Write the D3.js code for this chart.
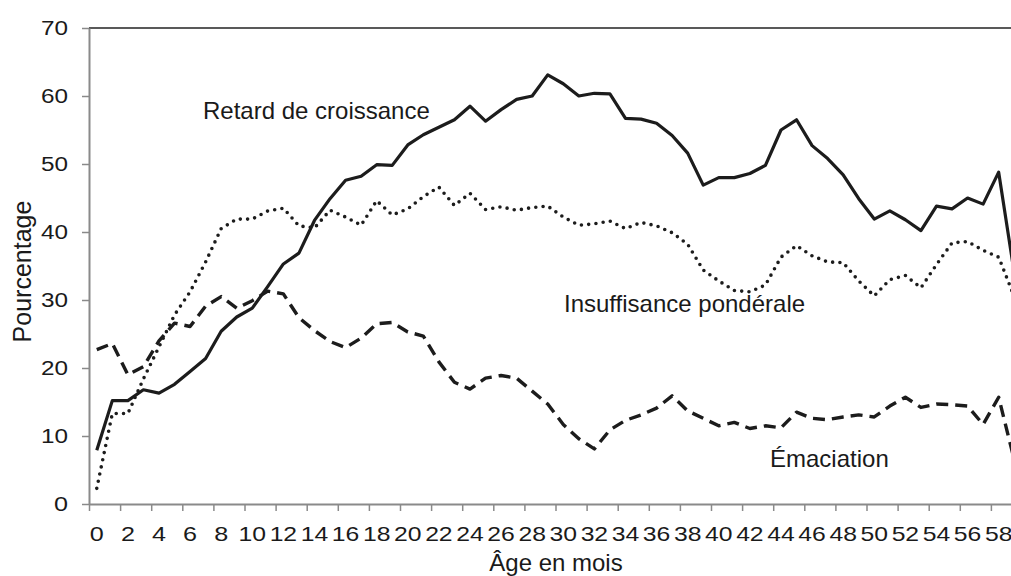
<!DOCTYPE html>
<meta charset="utf-8">
<html>
  <head>
    <title>Retard de croissance, insuffisance pondérale et émaciation selon l'âge</title>
    <script src="https://d3js.org/d3.v7.min.js"></script>
  </head>

<style type="text/css">
body {
  margin: 0;
  background: #FFFFFF;
}
svg {
  display: block;
}
.lbl {
  font-family: "Liberation Sans", Arial, sans-serif;
  fill: #1a1a1a;
}
</style>

<body>
<div id="my_dataviz"></div>

<script type="text/javascript">

// months 0..59, one category per month
var months = [0,1,2,3,4,5,6,7,8,9,10,11,12,13,14,15,16,17,18,19,
              20,21,22,23,24,25,26,27,28,29,30,31,32,33,34,35,36,37,38,39,
              40,41,42,43,44,45,46,47,48,49,50,51,52,53,54,55,56,57,58,59];

// Retard de croissance (solid)
var retard = [7.9,15.2,15.2,16.8,16.3,17.6,19.5,21.4,25.4,27.5,
              28.8,32.0,35.3,36.9,41.7,44.9,47.6,48.2,49.9,49.8,
              52.8,54.3,55.4,56.5,58.5,56.3,58.0,59.5,60.0,63.1,
              61.8,60.0,60.4,60.3,56.7,56.6,56.0,54.2,51.6,46.9,
              48.0,48.0,48.6,49.8,55.0,56.5,52.7,50.8,48.4,44.9,
              41.9,43.1,41.8,40.2,43.8,43.4,45.0,44.1,48.8,34.0];

// Insuffisance pondérale (dotted)
var insuffisance = [2.3,13.3,13.3,18.4,23.1,27.8,31.2,35.6,40.5,41.9,
                    41.9,43.1,43.5,40.9,40.6,43.2,42.2,41.0,44.6,42.5,
                    43.4,45.2,46.6,43.9,45.7,43.3,43.7,43.2,43.6,43.8,
                    42.2,41.0,41.2,41.6,40.5,41.4,40.9,39.9,38.2,34.4,
                    32.8,31.4,31.2,32.2,36.3,38.0,36.5,35.6,35.5,32.8,
                    30.6,33.0,33.6,31.8,35.2,38.4,38.6,37.3,36.3,30.5];

// Émaciation (dashed)
var emaciation = [22.7,23.6,19.0,20.2,24.0,26.6,26.1,29.1,30.5,28.8,
                  29.9,31.3,30.9,27.4,25.5,23.9,23.0,24.4,26.5,26.7,
                  25.3,24.7,20.9,17.9,16.9,18.5,18.9,18.5,16.6,14.7,
                  11.7,9.6,8.1,10.9,12.3,13.1,14.1,15.9,13.7,12.6,
                  11.5,12.0,11.1,11.5,11.2,13.5,12.6,12.4,12.8,13.1,
                  12.8,14.4,15.7,14.2,14.7,14.6,14.4,11.7,15.7,6.5];

var xTickLabels = ["0","2","4","6","8","10","12","14","16","18","20","22","24","26","28",
                   "30","32","34","36","38","40","42","44","46","48","50","52","54","56","58"];
var yTicks = [0,10,20,30,40,50,60,70];

// set the dimensions and margins of the graph
// (the original chart is wider than the picture, its right end is cut off)
var W = 1011, H = 576;
var margin = {top: 28, left: 89},
    width = 933,
    height = 476;

var svg = d3.select("#my_dataviz")
  .append("svg")
    .attr("width", W)
    .attr("height", H)
  .append("g")
    .attr("transform", "translate(" + margin.left + "," + margin.top + ")");

// scales
var x = d3.scaleBand()
  .domain(months)
  .range([0, width]);
var xEdge = d3.scaleLinear()
  .domain([0, months.length])
  .range([0, width]);
var y = d3.scaleLinear()
  .domain([0, 70])
  .range([height, 0]);

var axisGrey = "#8a8a8a";

// top border line
svg.append("line")
  .attr("x1", 0).attr("x2", width)
  .attr("y1", y(70)).attr("y2", y(70))
  .attr("stroke", "#222")
  .attr("stroke-width", 1.3);

// Y axis
var yAxis = svg.append("g")
  .call(d3.axisLeft(y).tickValues(yTicks).tickSize(7).tickSizeOuter(0).tickPadding(14));
yAxis.select(".domain").attr("stroke", axisGrey).attr("stroke-width", 2);
yAxis.selectAll(".tick line").attr("stroke", axisGrey).attr("stroke-width", 1.5);
yAxis.selectAll(".tick text")
  .attr("class", "lbl")
  .attr("font-size", 20)
  .attr("textLength", function(d) { return String(d).length > 1 ? 27 : 14; })
  .attr("lengthAdjust", "spacingAndGlyphs");

// X axis: tick marks between categories, every 2 months
var edges = xTickLabels.map(function(d) { return +d; }).concat([60]);
var xAxis = svg.append("g")
  .attr("transform", "translate(0," + height + ")")
  .call(d3.axisBottom(xEdge).tickValues(edges).tickSize(7).tickSizeOuter(0).tickFormat(""));
xAxis.select(".domain").attr("stroke", axisGrey).attr("stroke-width", 2);
xAxis.selectAll(".tick line").attr("stroke", axisGrey).attr("stroke-width", 1.5);

// X labels centred on their month
svg.append("g")
  .selectAll("text")
  .data(xTickLabels)
  .enter()
  .append("text")
    .attr("class", "lbl")
    .attr("x", function(d) { return x(+d) + x.bandwidth() / 2; })
    .attr("y", height + 37)
    .attr("text-anchor", "middle")
    .attr("font-size", 21)
    .attr("textLength", function(d) { return d.length > 1 ? 27.5 : 14; })
    .attr("lengthAdjust", "spacingAndGlyphs")
    .text(function(d) { return d; });

// axis titles
svg.append("text")
  .attr("class", "lbl")
  .attr("x", 556 - margin.left)
  .attr("y", 571 - margin.top)
  .attr("text-anchor", "middle")
  .attr("font-size", 24)
  .text("Âge en mois");

svg.append("text")
  .attr("class", "lbl")
  .attr("transform", "translate(" + (31 - margin.left) + "," + (271.5 - margin.top) + ") rotate(-90)")
  .attr("text-anchor", "middle")
  .attr("font-size", 25)
  .text("Pourcentage");

// the three lines
var series = [
  {name: "retard", values: retard, dash: null, width: 3.2, cap: "butt"},
  {name: "insuffisance", values: insuffisance, dash: "0,7.3", width: 3.6, cap: "round"},
  {name: "emaciation", values: emaciation, dash: "12,7", width: 3.4, cap: "butt"}
];

var line = d3.line()
  .x(function(d, i) { return x(months[i]) + x.bandwidth() / 2; })
  .y(function(d) { return y(d); });

series.forEach(function(s) {
  svg.append("path")
    .datum(s.values)
    .attr("fill", "none")
    .attr("stroke", "#1c1c1c")
    .attr("stroke-width", s.width)
    .attr("stroke-linejoin", "round")
    .attr("stroke-linecap", s.cap)
    .attr("stroke-dasharray", s.dash)
    .attr("d", line);
});

// in-chart labels
var notes = [
  {text: "Retard de croissance", x: 203, y: 119},
  {text: "Insuffisance pondérale", x: 564, y: 312},
  {text: "Émaciation", x: 770, y: 467}
];
svg.selectAll(".note")
  .data(notes)
  .enter()
  .append("text")
    .attr("class", "lbl note")
    .attr("x", function(d) { return d.x - margin.left; })
    .attr("y", function(d) { return d.y - margin.top; })
    .attr("font-size", 24)
    .text(function(d) { return d.text; });

</script>
</body>
</html>
